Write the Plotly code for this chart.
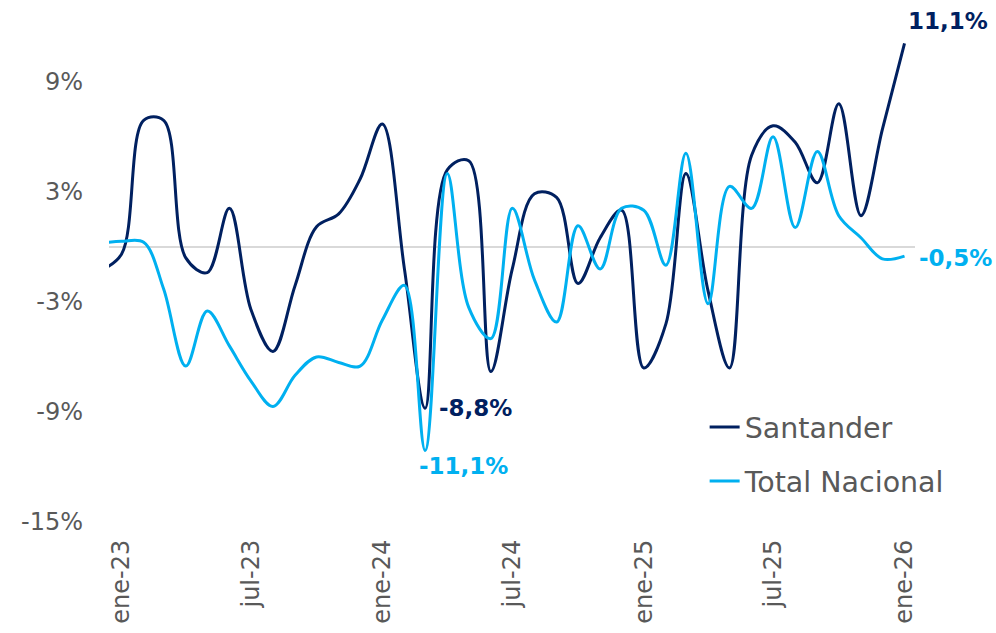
import plotly.graph_objects as go

# Monthly data (dic-22 .. ene-26); dic-22 is clipped at the left edge of the plot
months = ["2022-12-01",
          "2023-01-01", "2023-02-01", "2023-03-01", "2023-04-01", "2023-05-01", "2023-06-01",
          "2023-07-01", "2023-08-01", "2023-09-01", "2023-10-01", "2023-11-01", "2023-12-01",
          "2024-01-01", "2024-02-01", "2024-03-01", "2024-04-01", "2024-05-01", "2024-06-01",
          "2024-07-01", "2024-08-01", "2024-09-01", "2024-10-01", "2024-11-01", "2024-12-01",
          "2025-01-01", "2025-02-01", "2025-03-01", "2025-04-01", "2025-05-01", "2025-06-01",
          "2025-07-01", "2025-08-01", "2025-09-01", "2025-10-01", "2025-11-01", "2025-12-01",
          "2026-01-01"]

santander = [-1.3,
             -0.4, 6.9, 6.9, -0.6, -1.4, 2.1,
             -3.4, -5.7, -2.1, 1.1, 1.8, 3.7,
             6.7, -1.2, -8.8, 4.2, 4.7, -6.8,
             -1.2, 2.9, 2.7, -2.0, 0.5, 2.0,
             -6.6, -4.2, 4.0, -2.4, -6.6, 5.0,
             6.6, 5.7, 3.5, 7.8, 1.7, 6.4,
             11.1]

total_nacional = [0.2,
                  0.3, 0.25, -2.3, -6.5, -3.5, -5.4,
                  -7.3, -8.7, -7.0, -6.0, -6.3, -6.5,
                  -4.0, -2.1, -11.1, 4.0, -3.3, -5.0,
                  2.1, -1.8, -4.1, 1.15, -1.2, 2.1,
                  2.0, -1.0, 5.1, -3.1, 3.3, 2.1,
                  6.0, 1.05, 5.2, 1.7, 0.5, -0.65,
                  -0.5]

tick_vals = ["2023-01-01", "2023-07-01", "2024-01-01", "2024-07-01",
             "2025-01-01", "2025-07-01", "2026-01-01"]
tick_text = ["ene-23", "jul-23", "ene-24", "jul-24", "ene-25", "jul-25", "ene-26"]

y_ticks = [-15, -9, -3, 3, 9]
y_text = ["-15%", "-9%", "-3%", "3%", "9%"]

DARK = "#002060"
LIGHT = "#00B0F0"
GRAY = "#595959"
FONT = "DejaVu Sans"

fig = go.Figure()
fig.add_trace(go.Scatter(x=months, y=santander, name="Santander", mode="lines",
                         line=dict(color=DARK, width=3, shape="spline", smoothing=1.0),
                         legendgroup="a"))
fig.add_trace(go.Scatter(x=months, y=total_nacional, name="Total Nacional", mode="lines",
                         line=dict(color=LIGHT, width=3, shape="spline", smoothing=1.0),
                         legendgroup="b"))

def lab(x, y, text, color, xanchor, xshift, yshift):
    fig.add_annotation(x=x, y=y, xref="x", yref="y", text="<b>%s</b>" % text,
                       showarrow=False, xanchor=xanchor, yanchor="middle",
                       xshift=xshift, yshift=yshift,
                       font=dict(family=FONT, size=23, color=color))

lab(months[-1], santander[-1], "11,1%", DARK, "center", 43, 22)
lab(months[-1], total_nacional[-1], "-0,5%", LIGHT, "left", 12, -2)
lab(months[15], santander[15], "-8,8%", DARK, "left", 12, 0)
lab(months[15], total_nacional[15], "-11,1%", LIGHT, "left", -8, -16)

fig.update_layout(
    width=996, height=633,
    margin=dict(l=109, r=81, t=0, b=111),
    paper_bgcolor="white", plot_bgcolor="white",
    font=dict(family=FONT, color=GRAY),
    hovermode=False,
    showlegend=True,
    legend=dict(x=0.739, y=0.23, xanchor="left", yanchor="top",
                font=dict(family=FONT, size=28.5, color=GRAY),
                bgcolor="rgba(0,0,0,0)", tracegroupgap=14,
                itemwidth=30),
    xaxis=dict(type="date", range=["2022-12-14 12:00", "2026-01-15 16:00"],
               tickmode="array", tickvals=tick_vals, ticktext=tick_text,
               tickangle=-90, tickfont=dict(family=FONT, size=24, color=GRAY),
               showgrid=False, showline=False, zeroline=False, ticks="",
               ticklabelstandoff=12),
    yaxis=dict(range=[-15, 13.46], tickmode="array", tickvals=y_ticks, ticktext=y_text,
               tickfont=dict(family=FONT, size=24, color=GRAY),
               showgrid=False, showline=False, ticks="",
               zeroline=True, zerolinecolor="#D9D9D9", zerolinewidth=2,
               ticklabelstandoff=25),
)

fig.write_html("out.html",
               config={"displayModeBar": False},
               post_script="document.body.style.margin='0';document.body.style.padding='0';")
